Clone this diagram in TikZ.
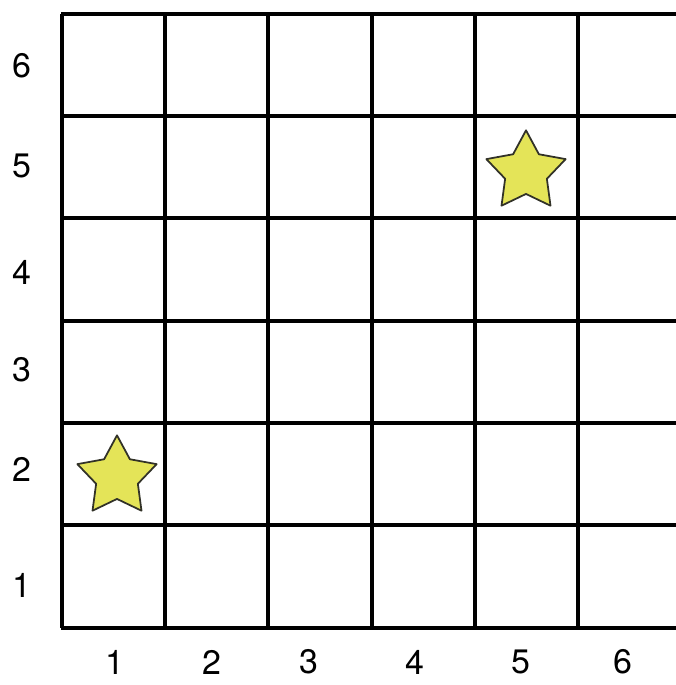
\documentclass[tikz,border=0pt]{standalone}
\usepackage{fontspec}
\setmainfont{TeX Gyre Heros}
\usetikzlibrary{shapes.geometric}
\definecolor{starfill}{RGB}{228,228,88}
\definecolor{starline}{RGB}{50,50,40}

\begin{document}
\begin{tikzpicture}[x=0.03cm,y=-0.03cm,
  gridline/.style={line width=3pt,black},
  lbl/.style={font=\fontsize{29}{34}\selectfont,inner sep=0pt},
  starmark/.style={star,star points=5,star point ratio=1.9,draw=starline,
                   line width=1.5pt,line join=round,fill=starfill,
                   minimum size=2.5cm,inner sep=0pt}
]
\useasboundingbox (0,0) rectangle (675,685);
% grid
\foreach \gx in {62,165,268,372,475,578}
  \draw[gridline] (\gx,14) -- (\gx,628);
\foreach \gy in {14,116,218,321,423,525,628}
  \draw[gridline] (61,\gy) -- (676,\gy);
% row labels
\node[lbl] (r6) at (22,66) {6};
\node[lbl] (r5) at (22,166) {5};
\node[lbl] (r4) at (22,272) {4};
\node[lbl] (r3) at (22,370) {3};
\node[lbl] (r2) at (22,469) {2};
\node[lbl] (r1) at (22,585) {1};
% column labels
\node[lbl] (c1) at (115,662) {1};
\node[lbl] (c2) at (212,662) {2};
\node[lbl] (c3) at (309,662) {3};
\node[lbl] (c4) at (415,662) {4};
\node[lbl] (c5) at (521,662) {5};
\node[lbl] (c6) at (623,662) {6};
% stars
\node[starmark] (s1) at (117,477) {};
\node[starmark] (s2) at (526,172) {};
\end{tikzpicture}
\end{document}
